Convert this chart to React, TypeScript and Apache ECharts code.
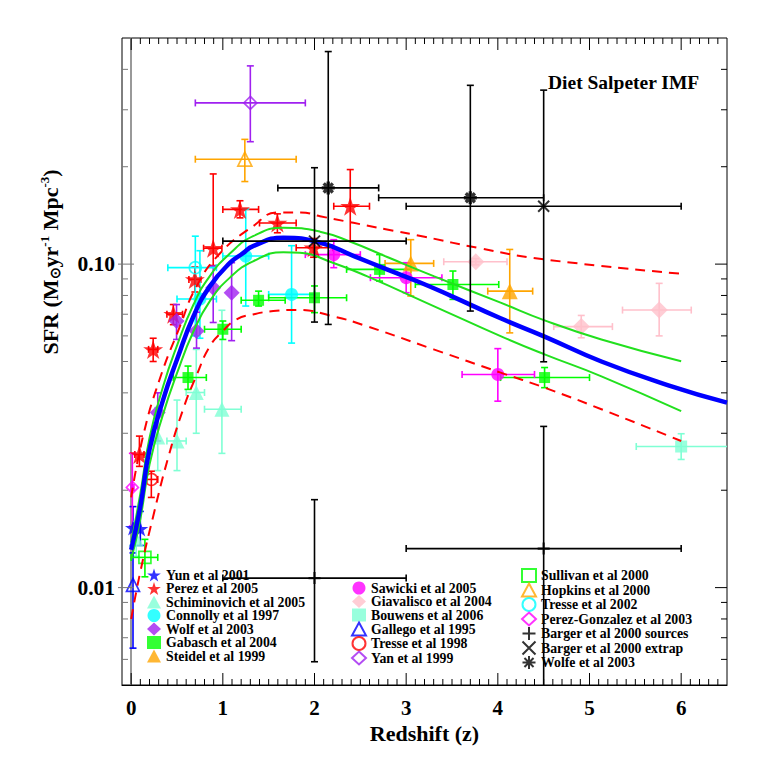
import React, { useEffect, useRef } from "react";
import * as echarts from "echarts";

const FONT = '"Liberation Serif", "Times New Roman", serif';

const X_MIN = -0.1;
const X_MAX = 6.5;
const Y_MIN = 0.005;
const Y_MAX = 0.5;

// ---- fit curves: [z, SFR] ----
const fitCurve = [
  [0, 0.0131], [0.1, 0.0178], [0.2, 0.0267], [0.35, 0.0382], [0.5, 0.0507], [0.68, 0.069],
  [0.86, 0.0855], [1.08, 0.101], [1.22, 0.108], [1.33, 0.1137], [1.66, 0.1207], [2.06, 0.1165],
  [2.43, 0.1059], [2.79, 0.0963], [3.16, 0.0876], [3.5, 0.0795], [4.03, 0.068], [4.51, 0.0597],
  [5.13, 0.05], [5.86, 0.0422], [6.5, 0.0373],
];
const fitUpper = [
  [0, 0.0138], [0.1, 0.0195], [0.2, 0.029], [0.35, 0.042], [0.5, 0.056], [0.68, 0.075],
  [0.86, 0.092], [1.08, 0.108], [1.33, 0.122], [1.66, 0.1296], [2.06, 0.126], [2.4, 0.117],
  [2.8, 0.105], [3.3, 0.0918], [4.03, 0.076], [4.51, 0.067], [5.13, 0.0585], [6.0, 0.0501],
];
const fitLower = [
  [0, 0.0122], [0.1, 0.0163], [0.2, 0.024], [0.35, 0.0345], [0.5, 0.046], [0.68, 0.062],
  [0.86, 0.077], [1.08, 0.091], [1.33, 0.102], [1.66, 0.1089], [1.84, 0.1084], [2.2, 0.101],
  [2.57, 0.0918], [3.3, 0.0742], [4.03, 0.0599], [4.51, 0.0526], [5.13, 0.045], [6.0, 0.0351],
];
const envUpper = [
  [0, 0.019], [0.13, 0.0294], [0.31, 0.044], [0.53, 0.064], [0.71, 0.085], [0.97, 0.108],
  [1.33, 0.131], [1.6, 0.1445], [1.85, 0.1445], [2.06, 0.1406], [2.79, 0.128], [3.2, 0.1215],
  [3.8, 0.112], [4.51, 0.1034], [6.0, 0.0934],
];
const envLower = [
  [0, 0.008], [0.1, 0.0112], [0.24, 0.0166], [0.4, 0.025], [0.567, 0.0356], [0.71, 0.0451],
  [0.86, 0.0558], [1.0, 0.0621], [1.15, 0.0675], [1.33, 0.0699], [1.55, 0.0716], [1.81, 0.0722],
  [2.2, 0.069], [2.57, 0.0643], [3.3, 0.0545], [4.03, 0.0462], [4.51, 0.0415], [5.13, 0.0356],
  [6.0, 0.0284],
];

// ---- data points: [z, SFR, zLow, zHigh, SFRlow, SFRhigh] ----
const yun2001 = [[0.02, 0.0153, 0.02, 0.02, 0.0128, 0.0178], [0.1, 0.0152, 0.1, 0.1, 0.0135, 0.0172]];
const perez2005 = [
  [0.09, 0.0258, 0.04, 0.14, 0.0237, 0.0294], [0.24, 0.0545, 0.19, 0.29, 0.05, 0.059],
  [0.46, 0.07, 0.39, 0.56, 0.065, 0.075], [0.695, 0.0897, 0.63, 0.76, 0.082, 0.098],
  [0.895, 0.112, 0.79, 0.99, 0.099, 0.19], [1.187, 0.1476, 1.0, 1.39, 0.139, 0.157],
  [1.595, 0.134, 1.4, 1.8, 0.125, 0.143], [1.99, 0.1124, 1.8, 2.2, 0.105, 0.12],
  [2.39, 0.151, 2.21, 2.6, 0.118, 0.196],
];
const schiminovich2005 = [
  [0.055, 0.0141, 0.055, 0.055, 0.0125, 0.016], [0.29, 0.0292, 0.29, 0.29, 0.023, 0.036],
  [0.5, 0.0284, 0.39, 0.6, 0.023, 0.038], [0.71, 0.0401, 0.6, 0.8, 0.03, 0.0545],
  [0.99, 0.0356, 0.8, 1.2, 0.026, 0.072],
];
const connolly1997 = [
  [0.75, 0.078, 0.5, 0.93, 0.059, 0.11], [1.25, 0.1059, 1.0, 1.5, 0.0742, 0.148],
  [1.75, 0.0806, 1.5, 2.0, 0.057, 0.114],
];
const wolf2003 = [
  [0.29, 0.0348, 0.29, 0.29, 0.0284, 0.04], [0.495, 0.0667, 0.495, 0.495, 0.0585, 0.075],
  [0.713, 0.0621, 0.713, 0.713, 0.055, 0.071], [0.895, 0.0845, 0.895, 0.895, 0.066, 0.0986],
  [1.096, 0.0816, 1.096, 1.096, 0.058, 0.101],
];
const gabasch2004 = [
  [0.62, 0.0446, 0.46, 0.82, 0.041, 0.0484], [1.0, 0.0629, 0.8, 1.2, 0.0585, 0.0667],
  [1.39, 0.0773, 1.2, 1.68, 0.0742, 0.0825], [2.0, 0.0787, 1.5, 2.35, 0.0708, 0.0856],
  [2.71, 0.0963, 2.35, 3.05, 0.0886, 0.107], [3.51, 0.0865, 3.1, 4.01, 0.0778, 0.0952],
  [4.51, 0.0446, 4.03, 5.0, 0.0415, 0.0479],
];
const steidel1999 = [[3.05, 0.1005, 2.77, 3.3, 0.0797, 0.119], [4.13, 0.0825, 3.89, 4.38, 0.0613, 0.111]];
const sawicki2005 = [
  [2.21, 0.107, 1.9, 2.5, 0.0975, 0.119], [3.0, 0.0908, 2.61, 3.39, 0.0816, 0.101],
  [4.0, 0.0456, 3.61, 4.4, 0.0377, 0.0548],
];
const giavalisco2004 = [
  [3.76, 0.1017, 3.41, 4.1, 0.0995, 0.104], [4.91, 0.0641, 4.61, 5.25, 0.0592, 0.0694],
  [5.76, 0.0721, 5.36, 6.11, 0.06, 0.0872],
];
const bouwens2006 = [[6.0, 0.0273, 5.51, 6.6, 0.0249, 0.0299]];
const gallego1995 = [[0.02, 0.0102, 0.02, 0.02, 0.0065, 0.0135]];
const tresse1998 = [[0.22, 0.0216, 0.17, 0.29, 0.019, 0.0229]];
const yan1999 = [[1.3, 0.315, 0.7, 1.9, 0.239, 0.41]];
const sullivan2000 = [[0.15, 0.0124, 0.0, 0.29, 0.0108, 0.0141]];
const hopkins2000 = [[1.24, 0.211, 0.7, 1.8, 0.18, 0.243]];
const tresse2002 = [[0.7, 0.0975, 0.4, 0.93, 0.06, 0.122]];
const perezGonzalez2003 = [[0.013, 0.0204, 0.0, 0.03, 0.0155, 0.026]];
const bargerSources = [[2.0, 0.0107, 1.0, 3.0, 0.0059, 0.0187], [4.5, 0.0132, 3.0, 6.0, 0.0035, 0.0315]];
const bargerExtrap = [[2.0, 0.1178, 1.0, 3.0, 0.0662, 0.1986], [4.5, 0.151, 3.0, 6.0, 0.0499, 0.345]];
const wolfe2003 = [[2.15, 0.172, 1.6, 2.7, 0.0651, 0.454], [3.7, 0.1604, 2.7, 4.5, 0.0716, 0.357]];

// ---- ticks ----
const xMajorTicks = [0, 1, 2, 3, 4, 5, 6];
const xMinorTicks: number[] = [];
for (let i = 1; i <= 64; i++) if (i % 10 !== 0) xMinorTicks.push(i / 10);
const yMajorTicks = [0.01, 0.1];
const yMinorTicks = [0.006, 0.007, 0.008, 0.009, 0.02, 0.03, 0.04, 0.05, 0.06, 0.07, 0.08, 0.09, 0.2, 0.3, 0.4];

const STAR = "path://M0,-10L2.245,-3.09L9.51,-3.09L3.633,1.18L5.878,8.09L0,3.82L-5.878,8.09L-3.633,1.18L-9.51,-3.09L-2.245,-3.09Z";
const PLUS = "path://M0,5H10M5,0V10";
const CROSS = "path://M0,0L10,10M10,0L0,10";
const ASTER = "path://M5,0V10M0,5H10M1.5,1.5L8.5,8.5M8.5,1.5L1.5,8.5";

const BLUE = "#0000ff", RED = "#ff0000", AQUA = "#7fffd4", CYAN = "#00ffff", PURPLE = "#a020f0",
  GREEN = "#00ff00", ORANGE = "#ffa500", MAGENTA = "#ff00ff", PINK = "#ffc0cb", BLACK = "#000000";

type DS = { name: string; data: number[][]; color: string; symbol: string; size: number; open?: boolean; line?: number; col: number };

const datasets: DS[] = [
  { name: "Yun et al 2001", data: yun2001, color: BLUE, symbol: STAR, size: 16, col: 0 },
  { name: "Perez et al 2005", data: perez2005, color: RED, symbol: STAR, size: 20, col: 0 },
  { name: "Schiminovich et al 2005", data: schiminovich2005, color: AQUA, symbol: "triangle", size: 15, col: 0 },
  { name: "Connolly et al 1997", data: connolly1997, color: CYAN, symbol: "circle", size: 13, col: 0 },
  { name: "Wolf et al 2003", data: wolf2003, color: PURPLE, symbol: "diamond", size: 16, col: 0 },
  { name: "Gabasch et al 2004", data: gabasch2004, color: GREEN, symbol: "rect", size: 11, col: 0 },
  { name: "Steidel et al 1999", data: steidel1999, color: ORANGE, symbol: "triangle", size: 16, col: 0 },
  { name: "Sawicki et al 2005", data: sawicki2005, color: MAGENTA, symbol: "circle", size: 13, col: 1 },
  { name: "Giavalisco et al 2004", data: giavalisco2004, color: PINK, symbol: "diamond", size: 17, col: 1 },
  { name: "Bouwens et al 2006", data: bouwens2006, color: AQUA, symbol: "rect", size: 12, col: 1 },
  { name: "Gallego et al 1995", data: gallego1995, color: BLUE, symbol: "triangle", size: 13, open: true, col: 1 },
  { name: "Tresse et al 1998", data: tresse1998, color: RED, symbol: "circle", size: 12, open: true, col: 1 },
  { name: "Yan et al 1999", data: yan1999, color: PURPLE, symbol: "diamond", size: 13, open: true, col: 1 },
  { name: "Sullivan et al 2000", data: sullivan2000, color: GREEN, symbol: "rect", size: 12, open: true, col: 2 },
  { name: "Hopkins et al 2000", data: hopkins2000, color: ORANGE, symbol: "triangle", size: 14, open: true, col: 2 },
  { name: "Tresse et al 2002", data: tresse2002, color: CYAN, symbol: "circle", size: 12, open: true, col: 2 },
  { name: "Perez-Gonzalez et al 2003", data: perezGonzalez2003, color: MAGENTA, symbol: "diamond", size: 12, open: true, col: 2 },
  { name: "Barger et al 2000 sources", data: bargerSources, color: BLACK, symbol: PLUS, size: 12, line: 2.2, col: 2 },
  { name: "Barger et al 2000 extrap", data: bargerExtrap, color: BLACK, symbol: CROSS, size: 11, line: 2, col: 2 },
  { name: "Wolfe et al 2003", data: wolfe2003, color: BLACK, symbol: ASTER, size: 13, line: 3.4, col: 2 },
];

function errRender(color: string) {
  return (params: any, api: any) => {
    const x = api.value(0), y = api.value(1);
    const x0 = api.value(2), x1 = api.value(3), y0 = api.value(4), y1 = api.value(5);
    const style = { stroke: color, lineWidth: 1.6, fill: null };
    const cap = 3.5;
    const children: any[] = [];
    if (x1 > x0) {
      const a = api.coord([x0, y]), b = api.coord([x1, y]);
      children.push({ type: "line", shape: { x1: a[0], y1: a[1], x2: b[0], y2: b[1] }, style });
      children.push({ type: "line", shape: { x1: a[0], y1: a[1] - cap, x2: a[0], y2: a[1] + cap }, style });
      children.push({ type: "line", shape: { x1: b[0], y1: b[1] - cap, x2: b[0], y2: b[1] + cap }, style });
    }
    if (y1 > y0) {
      const a = api.coord([x, y0]), b = api.coord([x, y1]);
      children.push({ type: "line", shape: { x1: a[0], y1: a[1], x2: b[0], y2: b[1] }, style });
      children.push({ type: "line", shape: { x1: a[0] - cap, y1: a[1], x2: a[0] + cap, y2: a[1] }, style });
      children.push({ type: "line", shape: { x1: b[0] - cap, y1: b[1], x2: b[0] + cap, y2: b[1] }, style });
    }
    return { type: "group", children };
  };
}

function tickRender(params: any, api: any) {
  const kind = api.value(2), major = api.value(3);
  const len = major ? 12 : 6;
  const style = { stroke: "#000", lineWidth: 1 };
  if (kind === 0) {
    const v = api.value(0);
    const b = api.coord([v, Y_MIN]);
    const t = api.coord([v, Y_MAX]);
    return {
      type: "group",
      children: [
        { type: "line", shape: { x1: b[0], y1: b[1], x2: b[0], y2: b[1] - len }, style },
        { type: "line", shape: { x1: t[0], y1: t[1], x2: t[0], y2: t[1] + len }, style },
      ],
    };
  }
  const v = api.value(1);
  const l = api.coord([X_MIN, v]);
  const r = api.coord([X_MAX, v]);
  return {
    type: "group",
    children: [
      { type: "line", shape: { x1: l[0] - (major ? 4 : 0), y1: l[1], x2: l[0] + len, y2: l[1] }, style: { stroke: "#777", lineWidth: 1 } },
      { type: "line", shape: { x1: r[0], y1: r[1], x2: r[0] - len, y2: r[1] }, style },
    ],
  };
}

export default function App() {
  const ref = useRef<HTMLDivElement>(null);
  useEffect(() => {
    if (!ref.current) return;
    const chart = echarts.init(ref.current, null, { renderer: "svg" });

    const series: any[] = [];
    datasets.forEach((ds) => {
      const isBlack = ds.color === BLACK;
      series.push({
        type: "custom",
        name: ds.name + " err",
        renderItem: errRender(ds.color),
        data: ds.data.map((d) => d.slice()),
        clip: true,
        silent: true,
        z: isBlack ? 5 : 2,
      });
    });
    datasets.forEach((ds) => {
      const isBlack = ds.color === BLACK;
      let itemStyle: any;
      if (ds.line) itemStyle = { color: BLACK, borderColor: BLACK, borderWidth: ds.line };
      else if (ds.open) itemStyle = { color: "rgba(255,255,255,0)", borderColor: ds.color, borderWidth: 1.7 };
      else itemStyle = { color: ds.color, borderWidth: 0 };
      series.push({
        type: "scatter",
        name: ds.name,
        data: ds.data.map((d) => [d[0], d[1]]),
        symbol: ds.symbol,
        symbolSize: ds.size,
        symbolKeepAspect: true,
        itemStyle,
        clip: true,
        silent: true,
        z: isBlack ? 6 : 3,
      });
    });
    const lineSeries = (data: number[][], color: string, width: number, dashed: boolean) => ({
      type: "line",
      data,
      showSymbol: false,
      smooth: 0.5,
      silent: true,
      clip: true,
      z: 4,
      lineStyle: { color, width, type: dashed ? [10, 7] : "solid" },
    });
    series.push(lineSeries(envUpper, RED, 2, true));
    series.push(lineSeries(envLower, RED, 2, true));
    series.push(lineSeries(fitUpper, "#22e01e", 2, false));
    series.push(lineSeries(fitLower, "#22e01e", 2, false));
    series.push(lineSeries(fitCurve, BLUE, 4.5, false));

    const tickData = [
      ...xMajorTicks.map((v) => [v, 0.1, 0, 1]),
      ...xMinorTicks.map((v) => [v, 0.1, 0, 0]),
      ...yMajorTicks.map((v) => [1, v, 1, 1]),
      ...yMinorTicks.map((v) => [1, v, 1, 0]),
    ];
    series.push({ type: "custom", name: "ticks", renderItem: tickRender, data: tickData, clip: false, silent: true, z: 7 });

    const legendBase = {
      orient: "vertical",
      itemWidth: 14,
      itemHeight: 13,
      itemGap: -0.5,
      padding: 0,
      selectedMode: false,
      textStyle: { fontFamily: FONT, fontWeight: "bold", fontSize: 13.8, lineHeight: 13, color: "#000" },
    };
    const col = (c: number) => datasets.filter((d) => d.col === c).map((d) => d.name);

    chart.setOption({
      animation: false,
      backgroundColor: "#fff",
      grid: {
        left: 122, right: 36, top: 38, bottom: 78,
        show: true, borderColor: "#000", borderWidth: 1, backgroundColor: "transparent",
        outerBoundsMode: "none",
      },
      xAxis: {
        type: "value",
        min: X_MIN,
        max: X_MAX,
        splitNumber: 7,
        name: "Redshift (z)",
        nameLocation: "middle",
        nameGap: 36,
        nameTextStyle: { fontFamily: FONT, fontWeight: "bold", fontSize: 22, color: "#000" },
        axisLine: { show: true, lineStyle: { color: "#000", width: 1.2 } },
        axisTick: { show: false },
        splitLine: { show: false },
        axisLabel: {
          showMinLabel: false,
          showMaxLabel: false,
          margin: 12,
          fontFamily: FONT,
          fontWeight: "bold",
          fontSize: 21,
          color: "#000",
          formatter: (v: number) => String(Math.round(v)),
        },
      },
      yAxis: {
        type: "log",
        logBase: 10,
        min: Y_MIN,
        max: Y_MAX,
        axisLine: { show: true, lineStyle: { color: "#999", width: 2 } },
        axisTick: { show: false },
        splitLine: { show: false },
        minorTick: { show: false },
        axisLabel: {
          showMinLabel: false,
          showMaxLabel: false,
          margin: 7,
          fontFamily: FONT,
          fontWeight: "bold",
          fontSize: 21.5,
          color: "#000",
          formatter: (v: number) => Number(v).toFixed(2),
        },
      },
      legend: [
        { ...legendBase, data: col(0), left: 147, top: 568 },
        { ...legendBase, data: col(1), left: 351, top: 581 },
        { ...legendBase, data: col(2), left: 521, top: 568 },
      ],
      graphic: [
        {
          type: "text",
          x: 50,
          y: 262,
          rotation: Math.PI / 2,
          style: {
            text: "{a|SFR (M}{s|⊙}{a|yr}{p|-1}{a| Mpc}{p|-3}{a|)}",
            align: "center",
            verticalAlign: "middle",
            fill: "#000",
            rich: {
              a: { fontFamily: FONT, fontWeight: "bold", fontSize: 22, lineHeight: 24, verticalAlign: "middle", fill: "#000" },
              s: { fontFamily: FONT, fontWeight: "bold", fontSize: 14, lineHeight: 14, verticalAlign: "bottom", fill: "#000" },
              p: { fontFamily: FONT, fontWeight: "bold", fontSize: 13, lineHeight: 13, verticalAlign: "top", fill: "#000" },
            },
          },
        },
        {
          type: "text",
          left: 548,
          top: 72,
          style: { text: "Diet Salpeter IMF", fontFamily: FONT, fontWeight: "bold", fontSize: 19.5, fill: "#000" },
        },
      ],
      series,
    });
    return () => chart.dispose();
  }, []);

  return (
    <div
      ref={ref}
      style={{ position: "fixed", left: 0, top: 0, width: 763, height: 763, background: "#fff" }}
    />
  );
}
